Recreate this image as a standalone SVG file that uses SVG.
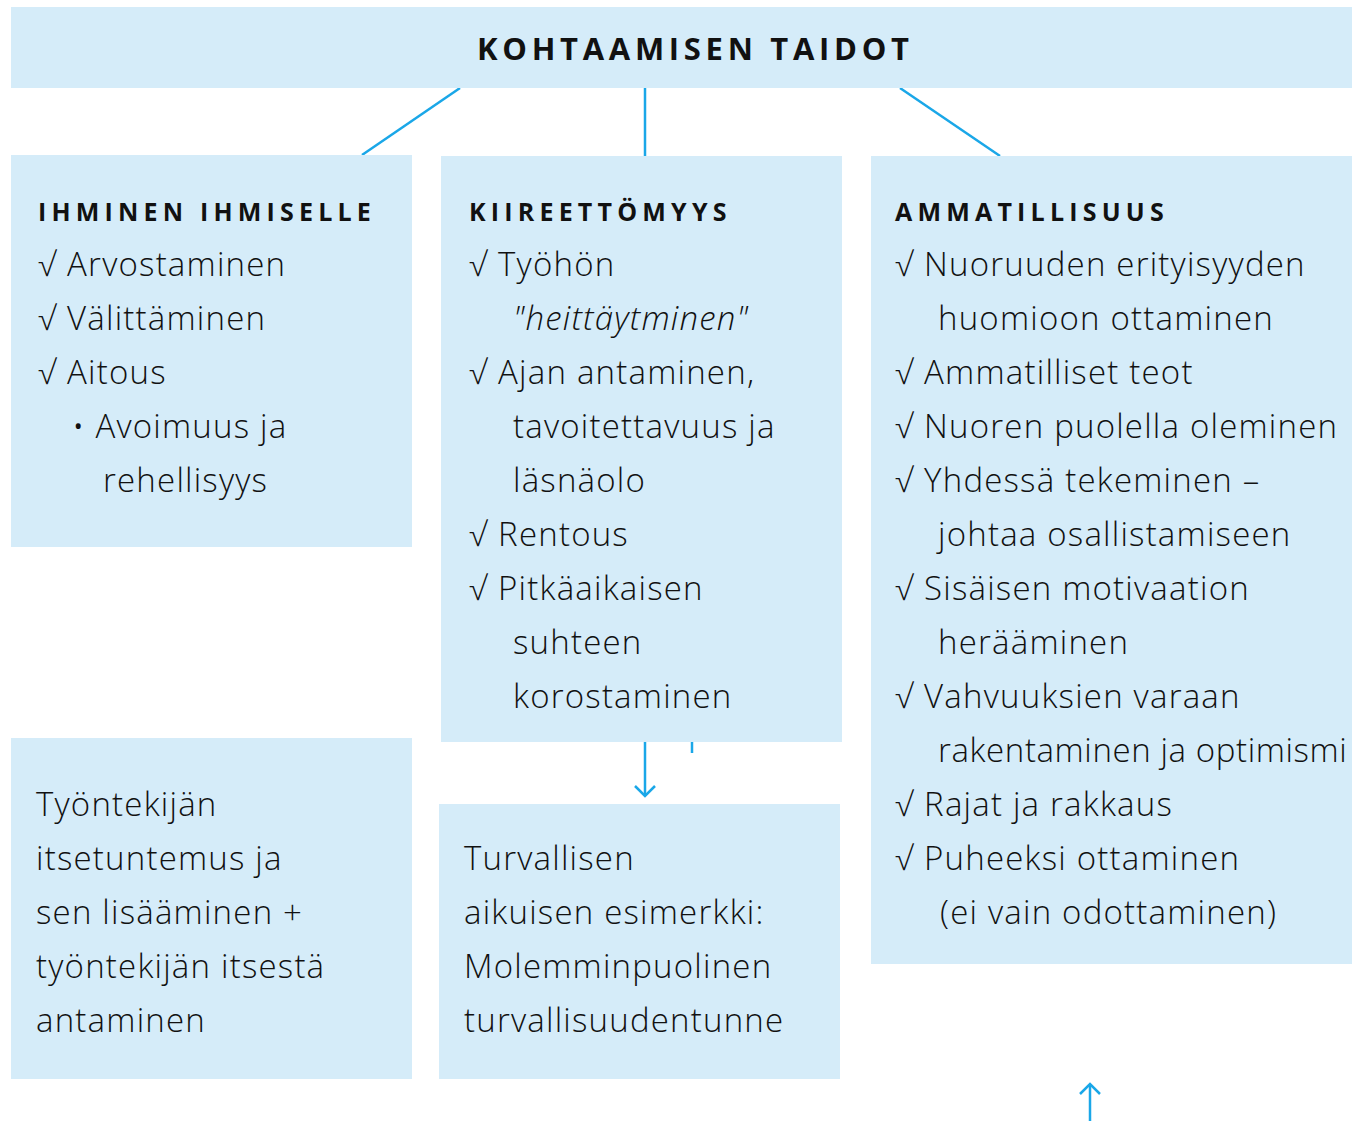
<svg xmlns="http://www.w3.org/2000/svg" width="1352" height="1121" viewBox="0 0 1352 1121">
<defs>
<style>
.box{fill:#d5ecf9}
.t{font-family:"Open Sans","DejaVu Sans",sans-serif;font-weight:300;font-size:33px;fill:#111;letter-spacing:1.2px}
.i{font-style:italic}
.h{font-family:"Open Sans","DejaVu Sans",sans-serif;font-weight:700;font-size:25px;fill:#111;letter-spacing:5.2px}
.title{font-family:"Open Sans","DejaVu Sans",sans-serif;font-weight:700;font-size:31px;fill:#111;letter-spacing:4.7px}
.c{stroke:#1aa7e8;stroke-width:2.5;fill:none}
</style>
</defs>
<rect width="1352" height="1121" fill="#fff"/>
<g id="connectors">
<line class="c" x1="460" y1="88" x2="362" y2="155"/>
<line class="c" x1="645" y1="88" x2="645" y2="156"/>
<line class="c" x1="900" y1="88" x2="1000" y2="156"/>
<line class="c" x1="645" y1="742" x2="645" y2="796"/>
<polyline class="c" points="635,786 645,796 655,786"/>
<line class="c" x1="692" y1="742" x2="692" y2="753"/>
<line class="c" x1="1090" y1="1121" x2="1090" y2="1084"/>
<polyline class="c" points="1080,1094 1090,1084 1100,1094"/>
</g>
<g id="title">
<rect class="box" x="11" y="7" width="1341" height="81"/>
<text class="title" x="477" y="60">KOHTAAMISEN TAIDOT</text>
</g>
<g id="ihminen">
<rect class="box" x="11" y="155" width="401" height="392"/>
<text class="h" x="38" y="221">IHMINEN IHMISELLE</text>
<text class="t" x="38" y="276">√ Arvostaminen</text>
<text class="t" x="38" y="330">√ Välittäminen</text>
<text class="t" x="38" y="384">√ Aitous</text>
<text class="t" x="72" y="438">• Avoimuus ja</text>
<text class="t" x="103" y="492">rehellisyys</text>
</g>
<g id="kiireettomyys">
<rect class="box" x="441" y="156" width="401" height="586"/>
<text class="h" x="469" y="221">KIIREETTÖMYYS</text>
<text class="t" x="469" y="276">√ Työhön</text>
<text class="t i" x="513" y="330">"heittäytminen"</text>
<text class="t" x="469" y="384">√ Ajan antaminen,</text>
<text class="t" x="513" y="438">tavoitettavuus ja</text>
<text class="t" x="513" y="492">läsnäolo</text>
<text class="t" x="469" y="546">√ Rentous</text>
<text class="t" x="469" y="600">√ Pitkäaikaisen</text>
<text class="t" x="513" y="654">suhteen</text>
<text class="t" x="513" y="708">korostaminen</text>
</g>
<g id="ammatillisuus">
<rect class="box" x="871" y="156" width="481" height="808"/>
<text class="h" x="895" y="221">AMMATILLISUUS</text>
<text class="t" x="895" y="276">√ Nuoruuden erityisyyden</text>
<text class="t" x="938" y="330">huomioon ottaminen</text>
<text class="t" x="895" y="384">√ Ammatilliset teot</text>
<text class="t" x="895" y="438">√ Nuoren puolella oleminen</text>
<text class="t" x="895" y="492">√ Yhdessä tekeminen –</text>
<text class="t" x="938" y="546">johtaa osallistamiseen</text>
<text class="t" x="895" y="600">√ Sisäisen motivaation</text>
<text class="t" x="938" y="654">herääminen</text>
<text class="t" x="895" y="708">√ Vahvuuksien varaan</text>
<text class="t" x="938" y="762" style="letter-spacing:0.6px">rakentaminen ja optimismi</text>
<text class="t" x="895" y="816">√ Rajat ja rakkaus</text>
<text class="t" x="895" y="870">√ Puheeksi ottaminen</text>
<text class="t" x="940" y="924">(ei vain odottaminen)</text>
</g>
<g id="itsetuntemus">
<rect class="box" x="11" y="738" width="401" height="341"/>
<text class="t" x="36" y="816">Työntekijän</text>
<text class="t" x="36" y="870">itsetuntemus ja</text>
<text class="t" x="36" y="924">sen lisääminen +</text>
<text class="t" x="36" y="978">työntekijän itsestä</text>
<text class="t" x="36" y="1032">antaminen</text>
</g>
<g id="turvallinen">
<rect class="box" x="439" y="804" width="401" height="275"/>
<text class="t" x="464" y="870">Turvallisen</text>
<text class="t" x="464" y="924">aikuisen esimerkki:</text>
<text class="t" x="464" y="978">Molemminpuolinen</text>
<text class="t" x="464" y="1032">turvallisuudentunne</text>
</g>
</svg>
